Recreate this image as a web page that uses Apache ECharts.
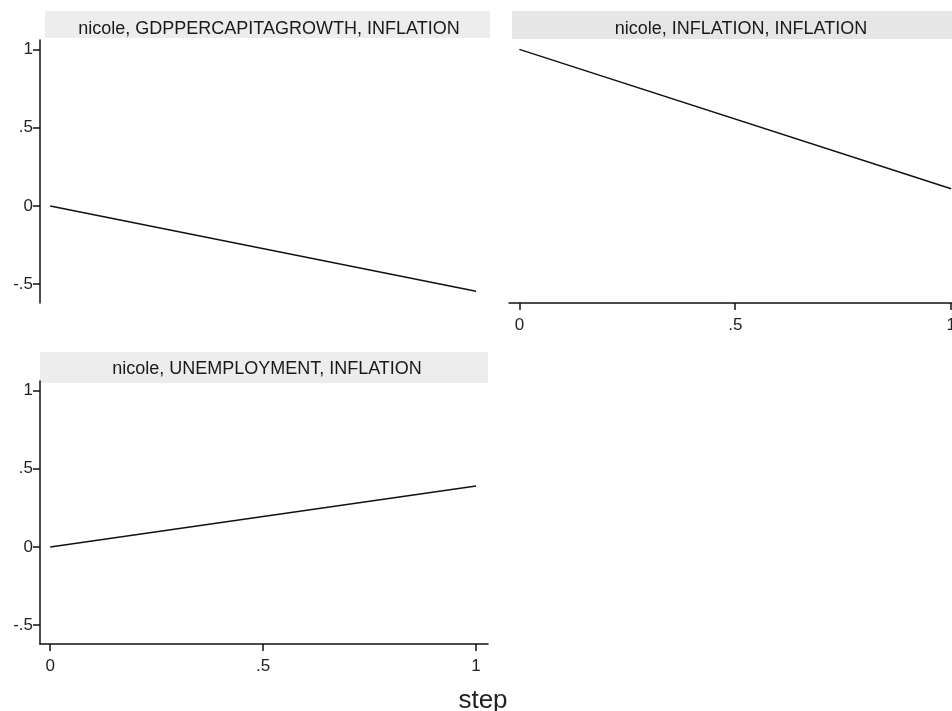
<!DOCTYPE html>
<html>
<head>
<meta charset="utf-8">
<script src="https://cdn.jsdelivr.net/npm/echarts@6/dist/echarts.min.js"></script>
<style>
  html, body { margin: 0; padding: 0; background: #fff; }
  #chart { width: 952px; height: 711px; }
</style>
</head>
<body>
<div id="chart"></div>
<script>
// irf steps and responses
const steps = [0, 1];
const gdpResponse = [0, -0.545];
const inflationResponse = [1.0, 0.11];
const unemploymentResponse = [0, 0.39];

const panelTitles = [
  "nicole, GDPPERCAPITAGROWTH, INFLATION",
  "nicole, INFLATION, INFLATION",
  "nicole, UNEMPLOYMENT, INFLATION",
];
const xTicks = [0, 0.5, 1];
const xTickLabels = ["0", ".5", "1"];
const yTicks = [-0.5, 0, 0.5, 1];
const yTickLabels = ["-.5", "0", ".5", "1"];
const xLabel = "step";

const fmt = (ticks, labels) => (v) => {
  let i = ticks.findIndex((t) => Math.abs(t - v) < 1e-6);
  return i >= 0 ? labels[i] : "";
};

const axisFont = { fontFamily: "Liberation Sans", fontSize: 17, color: "#222" };

function makeX(gridIndex, show, max) {
  return {
    type: "value",
    gridIndex: gridIndex,
    min: -0.024,
    max: max,
    show: show,
    axisLine: { show: true, onZero: false, lineStyle: { color: "#111", width: 1.5 } },
    axisTick: { show: true, length: 7, customValues: xTicks, lineStyle: { color: "#111", width: 1.5 } },
    axisLabel: Object.assign({ margin: 14, customValues: xTicks, formatter: fmt(xTicks, xTickLabels) }, axisFont),
    splitLine: { show: false },
  };
}

function makeY(gridIndex, show) {
  return {
    type: "value",
    gridIndex: gridIndex,
    min: -0.62,
    max: 1.06,
    show: show,
    axisLine: { show: true, onZero: false, lineStyle: { color: "#111", width: 1.5 } },
    axisTick: { show: true, length: 7, customValues: yTicks, lineStyle: { color: "#111", width: 1.5 } },
    axisLabel: Object.assign({ margin: 7, customValues: yTicks, formatter: fmt(yTicks, yTickLabels) }, axisFont),
    splitLine: { show: false },
  };
}

function lineSeries(idx, values) {
  return {
    type: "line",
    xAxisIndex: idx,
    yAxisIndex: idx,
    data: steps.map((s, i) => [s, values[i]]),
    showSymbol: false,
    lineStyle: { color: "#111", width: 1.5 },
    silent: true,
  };
}

const titleStyle = { fontFamily: "Liberation Sans", fontSize: 18, fontWeight: "normal", color: "#1a1a1a" };

let chart = echarts.init(document.getElementById("chart"));
chart.setOption({
  backgroundColor: "#fff",
  animation: false,
  graphic: [
    { type: "rect", shape: { x: 45, y: 11, width: 445, height: 27 }, style: { fill: "#ededed" }, z: -1 },
    { type: "rect", shape: { x: 512, y: 11, width: 440, height: 28 }, style: { fill: "#e6e6e6" }, z: -1 },
    { type: "rect", shape: { x: 40, y: 352, width: 448, height: 31 }, style: { fill: "#ededed" }, z: -1 },
  ],
  title: [
    { text: panelTitles[0], left: 264, top: 15, textAlign: "center", textStyle: titleStyle },
    { text: panelTitles[1], left: 736, top: 15, textAlign: "center", textStyle: titleStyle },
    { text: panelTitles[2], left: 262, top: 355, textAlign: "center", textStyle: titleStyle },
    { text: xLabel, left: 478, top: 683, textAlign: "center",
      textStyle: { fontFamily: "Liberation Sans", fontSize: 26, fontWeight: "normal", color: "#222" } },
  ],
  grid: [
    { left: 40, top: 40, width: 448, height: 263, outerBoundsMode: "none" },
    { left: 509, top: 40, width: 443, height: 263, outerBoundsMode: "none" },
    { left: 40, top: 381, width: 448, height: 263, outerBoundsMode: "none" },
  ],
  xAxis: [makeX(0, false, 1.028), makeX(1, true, 1.002), makeX(2, true, 1.028)],
  yAxis: [makeY(0, true), makeY(1, false), makeY(2, true)],
  series: [
    lineSeries(0, gdpResponse),
    lineSeries(1, inflationResponse),
    lineSeries(2, unemploymentResponse),
  ],
});
</script>
</body>
</html>
